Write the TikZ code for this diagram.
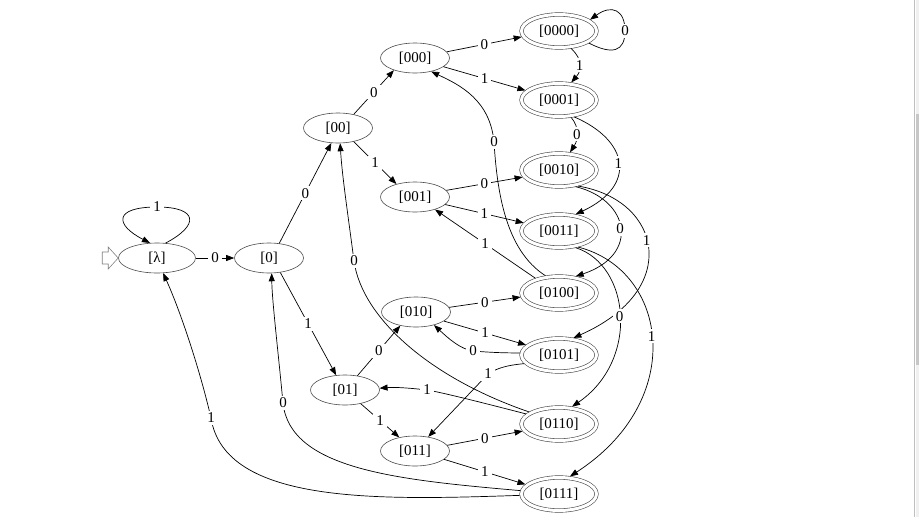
\documentclass[tikz,border=0pt]{standalone}
\usepackage{fontspec}
\setmainfont{Liberation Serif}
\usetikzlibrary{arrows.meta,shapes.geometric}

\begin{document}
\begin{tikzpicture}[x=1pt,y=-1pt,
  font=\fontsize{15pt}{18pt}\selectfont,
  >={Triangle[length=8pt,width=6pt]},
  st/.style={ellipse, draw=black!70, line width=0.6pt, minimum width=69pt, minimum height=30pt, inner sep=0pt},
  acc/.style={st, double, double distance=3pt, minimum width=75pt, minimum height=33pt, outer sep=1.9pt},
  lbl/.style={fill=white, inner xsep=3pt, inner ysep=2pt},
  tr/.style={->, line width=0.7pt}]
\useasboundingbox (0,0) rectangle (919,517);
% scroll bar at the right edge
\fill[black!6] (915.5,0) rectangle (919,517);
\draw[black!25, line width=0.8pt] (914.5,0) -- (914.5,517);
\fill[black!22] (916,114) rectangle (919,365);

% states
\node[st, minimum width=77pt] (lam) at (157,258) {[λ]};
\node[st] (n0) at (269,258) {[0]};
\node[st] (n00) at (338,128) {[00]};
\node[st] (n01) at (345,390) {[01]};
\node[st] (n000) at (415,58) {[000]};
\node[st] (n001) at (415,197) {[001]};
\node[st] (n010) at (416,312) {[010]};
\node[st] (n011) at (415,451) {[011]};
\node[acc] (n0000) at (559,31) {[0000]};
\node[acc] (n0001) at (559,100) {[0001]};
\node[acc] (n0010) at (559,170) {[0010]};
\node[acc] (n0011) at (559,231) {[0011]};
\node[acc] (n0100) at (559,293) {[0100]};
\node[acc] (n0101) at (559,355) {[0101]};
\node[acc] (n0110) at (559,424) {[0110]};
\node[acc] (n0111) at (559,494) {[0111]};

% start marker
\draw[black!50, line width=0.6pt] ([shift={(-16,6)}]lam.west) -- ++(6,0) -- ++(0,5) -- ++(10,-11) -- ++(-10,-11) -- ++(0,5) -- ++(-6,0) -- cycle;

% transitions
\draw[tr] (lam.60) .. controls (200,225) and (198,207) .. (157,207) node[lbl]{1} .. controls (113,207) and (115,225) .. (lam.115);
\draw[tr] (lam) -- node[lbl]{0} (n0);
\draw[tr] (n0.55) -- node[lbl]{0} (n00.246);
\draw[tr] (n0.-52) -- node[lbl]{1} (n01.121);
\draw[tr] (n00.41) -- node[lbl]{0} (n000.210);
\draw[tr] (n00.-41) -- node[lbl]{1} (n001.145);
\draw[tr] (n000.11) -- node[lbl]{0} (n0000.189);
\draw[tr] (n000.-17) -- node[lbl]{1} (n0001.164);
\draw[tr] (n001.12) -- node[lbl]{0} (n0010.191);
\draw[tr] (n001.-14) -- node[lbl]{1} (n0011.167);
\draw[tr] (n010.8) -- node[lbl]{0} (n0100.186);
\draw[tr] (n010.-18) -- node[lbl]{1} (n0101.163);
\draw[tr] (n011.10) -- node[lbl]{0} (n0110.191);
\draw[tr] (n011.-16) -- node[lbl]{1} (n0111.164);
\draw[tr] (n01.49) -- node[lbl]{0} (n010.221);
\draw[tr] (n01.-41) -- node[lbl]{1} (n011.139);
\draw[tr] (n0100.148) -- node[lbl]{1} (n001.-32);

\draw[tr] (n0000.-22) .. controls (612,55) and (625,52) .. (625,31) node[lbl]{0} .. controls (625,10) and (612,4) .. (n0000.20);
\draw[tr] (n0000.-55) .. controls (583,60) and (582,70) .. node[lbl]{1} (n0001.55);
\draw[tr] (n0001.-55) .. controls (580,128) and (578,140) .. node[lbl]{0} (n0010.58);
\draw[tr] (n0001.-48) .. controls (628,140) and (638,185) .. node[lbl]{1} (n0011.45);
\draw[tr] (n0010.-45) .. controls (630,200) and (640,255) .. node[lbl]{0} (n0100.45);
\draw[tr] (n0010.-40) .. controls (662,200) and (682,290) .. node[lbl,pos=.45]{1} (n0101.50);
\draw[tr] (n0011.-45) .. controls (630,265) and (640,360) .. node[lbl,pos=.5]{0} (n0110.53);
\draw[tr] (n0011.-40) .. controls (668,270) and (688,400) .. node[lbl,pos=.48]{1} (n0111.58);

\draw[tr] (n0100.128) .. controls (505,250) and (497,190) .. (494,142) node[lbl]{0} .. controls (490,100) and (460,85) .. (n000.-40);
\draw[tr] (n0101.177) .. controls (500,353) and (485,352) .. (473,351) node[lbl]{0} .. controls (460,349) and (448,338) .. (n010.-36);
\draw[tr] (n0101.194) .. controls (508,365) and (497,368) .. (488,374) node[lbl]{1} -- (n011.47);
\draw[tr] (n0110.163) .. controls (480,402) and (440,392) .. (427,390) node[lbl]{1} .. controls (410,388) and (395,387) .. (n01.3);
\draw[tr] (n0110.158) .. controls (430,378) and (362,318) .. (354,261) node[lbl]{0} .. controls (348,215) and (342,175) .. (n00.-82);
\draw[tr] (n0111.175) .. controls (400,480) and (290,470) .. (283,403) node[lbl]{0} .. controls (278,350) and (272,300) .. (n0.-80);
\draw[tr] (n0111.182) .. controls (380,500) and (225,505) .. (211,418) node[lbl]{1} .. controls (200,370) and (180,310) .. (lam.-68);
\end{tikzpicture}
\end{document}
